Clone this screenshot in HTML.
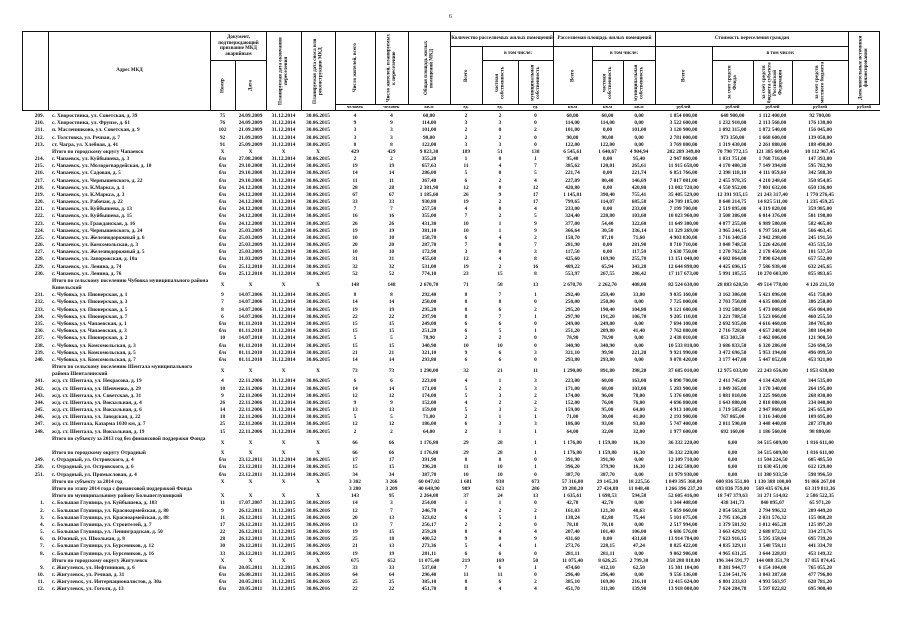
<!DOCTYPE html>
<html><head><meta charset="utf-8"><style>
body{margin:0;width:905px;height:640px;background:#fff;position:relative;overflow:hidden;font-family:"Liberation Serif",serif;color:#111}
.b{position:absolute;border:1px solid #111;box-sizing:border-box;display:flex;align-items:center;justify-content:center;text-align:center;font-size:5px;font-weight:bold;line-height:5.5px}
.v{writing-mode:vertical-rl;transform:rotate(180deg)}
.u{position:absolute;font-size:4.5px;font-weight:bold;top:104px;text-align:center}
#d{position:absolute;left:22px;top:113px;width:858px}
.r{display:grid;grid-template-columns:26px 162px 25px 31px 35px 34px 40px 33px 42px 32px 36px 35px 39px 31px 32px 57px 41px 39px 56px 32px;height:7.18px;font-size:5.3px;line-height:7.18px;white-space:nowrap;font-weight:bold}
.r span{text-align:center;overflow:hidden}
.r span:nth-child(1){text-align:right;padding-right:4px}
.r span:nth-child(2){text-align:left;padding-left:4px}
.t span:nth-child(2){font-weight:bold}
.t2{height:14.36px;line-height:7.18px}
.t2 span{line-height:14.36px}
.t2 span:nth-child(2){line-height:7.18px;white-space:normal}
</style></head><body>
<div style="position:absolute;left:449px;top:14px;font-size:6px">6</div>
<div class="b" style="left:22px;top:31px;width:27px;height:80px"></div>
<div class="b" style="left:48px;top:31px;width:163px;height:80px">Адрес МКД</div>
<div class="b" style="left:210px;top:31px;width:57px;height:30px">Документ, подтверждающий признание МКД аварийным</div>
<div class="b v" style="left:210px;top:60px;width:26px;height:51px">Номер</div>
<div class="b v" style="left:235px;top:60px;width:32px;height:51px">Дата</div>
<div class="b v" style="left:266px;top:31px;width:36px;height:80px">Планируемая дата окончания переселения</div>
<div class="b v" style="left:301px;top:31px;width:35px;height:80px">Планируемая дата сноса или реконструкции МКД</div>
<div class="b v" style="left:335px;top:31px;width:41px;height:74px">Число жителей, всего</div>
<div class="b v" style="left:375px;top:31px;width:34px;height:74px">Число жителей, планируемых к переселению</div>
<div class="b v" style="left:408px;top:31px;width:43px;height:74px">Общая площадь жилых помещений МКД</div>
<div class="b" style="left:450px;top:31px;width:104px;height:16px">Количество расселяемых жилых помещений</div>
<div class="b v" style="left:450px;top:46px;width:33px;height:59px">Всего</div>
<div class="b" style="left:482px;top:46px;width:72px;height:15px">в том числе:</div>
<div class="b v" style="left:482px;top:60px;width:37px;height:45px">частная собственность</div>
<div class="b v" style="left:518px;top:60px;width:36px;height:45px">муниципальная собственность</div>
<div class="b" style="left:553px;top:31px;width:103px;height:16px">Расселяемая площадь жилых помещений</div>
<div class="b v" style="left:553px;top:46px;width:40px;height:59px">Всего</div>
<div class="b" style="left:592px;top:46px;width:64px;height:15px">в том числе:</div>
<div class="b v" style="left:592px;top:60px;width:32px;height:45px">частная собственность</div>
<div class="b v" style="left:623px;top:60px;width:33px;height:45px">муниципальная собственность</div>
<div class="b" style="left:655px;top:31px;width:194px;height:16px">Стоимость переселения граждан</div>
<div class="b v" style="left:655px;top:46px;width:58px;height:59px">Всего</div>
<div class="b" style="left:712px;top:46px;width:137px;height:15px">в том числе:</div>
<div class="b v" style="left:712px;top:60px;width:42px;height:45px">за счет средств Фонда</div>
<div class="b v" style="left:753px;top:60px;width:40px;height:45px">за счет средств бюджета субъекта Российской Федерации</div>
<div class="b v" style="left:792px;top:60px;width:57px;height:45px">за счет средств местного бюджета</div>
<div class="b v" style="left:848px;top:31px;width:32px;height:74px">Дополнительные источники финансирования</div>
<div style="position:absolute;left:335px;top:110px;width:545px;border-top:1px solid #111"></div>
<div class="u" style="left:335px;width:40px">человек</div><div class="u" style="left:375px;width:33px">человек</div><div class="u" style="left:408px;width:42px">кв.м</div><div class="u" style="left:450px;width:32px">ед.</div><div class="u" style="left:482px;width:36px">ед.</div><div class="u" style="left:518px;width:35px">ед.</div><div class="u" style="left:553px;width:39px">кв.м</div><div class="u" style="left:592px;width:31px">кв.м</div><div class="u" style="left:623px;width:32px">кв.м</div><div class="u" style="left:655px;width:57px">рублей</div><div class="u" style="left:712px;width:41px">рублей</div><div class="u" style="left:753px;width:39px">рублей</div><div class="u" style="left:792px;width:56px">рублей</div><div class="u" style="left:848px;width:32px">рублей</div>
<div id="d">
<div class="r"><span>209.</span><span>с. Хворостянка, ул. Советская, д. 39</span><span>75</span><span>24.09.2009</span><span>31.12.2014</span><span>30.06.2015</span><span>4</span><span>4</span><span>60,00</span><span>2</span><span>2</span><span>0</span><span>60,00</span><span>60,00</span><span>0,00</span><span>1 854 000,00</span><span>648 900,00</span><span>1 112 400,00</span><span>92 700,00</span><span></span></div>
<div class="r"><span>210.</span><span>с. Хворостянка, ул. Фрунзе, д. 61</span><span>76</span><span>24.09.2009</span><span>31.12.2014</span><span>30.06.2015</span><span>9</span><span>9</span><span>114,00</span><span>3</span><span>3</span><span>0</span><span>114,00</span><span>114,00</span><span>0,00</span><span>3 522 600,00</span><span>1 232 910,00</span><span>2 113 560,00</span><span>176 130,00</span><span></span></div>
<div class="r"><span>211.</span><span>п. Масленниково, ул. Советская, д. 9</span><span>102</span><span>21.09.2009</span><span>31.12.2014</span><span>30.06.2015</span><span>3</span><span>3</span><span>101,00</span><span>2</span><span>0</span><span>2</span><span>101,00</span><span>0,00</span><span>101,00</span><span>3 120 900,00</span><span>1 092 315,00</span><span>1 872 540,00</span><span>156 045,00</span><span></span></div>
<div class="r"><span>212.</span><span>с. Толстовка, ул. Речная, д. 7</span><span>92</span><span>21.09.2009</span><span>31.12.2014</span><span>30.06.2015</span><span>3</span><span>3</span><span>90,00</span><span>2</span><span>2</span><span>0</span><span>90,00</span><span>90,00</span><span>0,00</span><span>2 781 000,00</span><span>973 350,00</span><span>1 668 600,00</span><span>139 050,00</span><span></span></div>
<div class="r"><span>213.</span><span>ст. Чагра, ул. Хлебная, д. 41</span><span>91</span><span>25.09.2009</span><span>31.12.2014</span><span>30.06.2015</span><span>8</span><span>8</span><span>122,00</span><span>3</span><span>3</span><span>0</span><span>122,00</span><span>122,00</span><span>0,00</span><span>3 769 800,00</span><span>1 319 430,00</span><span>2 261 880,00</span><span>188 490,00</span><span></span></div>
<div class="r t"><span></span><span>Итого по городскому округу Чапаевск</span><span>X</span><span>X</span><span>X</span><span>X</span><span>429</span><span>429</span><span>9 823,30</span><span>189</span><span>51</span><span>138</span><span>6 545,61</span><span>1 640,67</span><span>4 904,94</span><span>202 289 349,00</span><span>70 790 772,15</span><span>121 385 609,40</span><span>10 112 967,45</span><span></span></div>
<div class="r"><span>214.</span><span>г. Чапаевск, ул. Куйбышева, д. 3</span><span>б/н</span><span>27.08.2008</span><span>31.12.2014</span><span>30.06.2015</span><span>2</span><span>2</span><span>355,20</span><span>1</span><span>0</span><span>1</span><span>95,40</span><span>0,00</span><span>95,40</span><span>2 947 860,00</span><span>1 031 751,00</span><span>1 768 716,00</span><span>147 393,00</span><span></span></div>
<div class="r"><span>215.</span><span>г. Чапаевск, ул. Молодогвардейская, д. 10</span><span>б/н</span><span>29.10.2008</span><span>31.12.2014</span><span>30.06.2015</span><span>19</span><span>19</span><span>657,63</span><span>11</span><span>4</span><span>7</span><span>385,62</span><span>120,01</span><span>265,61</span><span>11 915 658,00</span><span>4 170 480,30</span><span>7 149 394,80</span><span>595 782,90</span><span></span></div>
<div class="r"><span>216.</span><span>г. Чапаевск, ул. Садовая, д. 5</span><span>б/н</span><span>29.10.2008</span><span>31.12.2014</span><span>30.06.2015</span><span>14</span><span>14</span><span>286,00</span><span>5</span><span>0</span><span>5</span><span>221,74</span><span>0,00</span><span>221,74</span><span>6 851 766,00</span><span>2 398 118,10</span><span>4 111 059,60</span><span>342 588,30</span><span></span></div>
<div class="r"><span>217.</span><span>г. Чапаевск, ул. Чернышевского, д. 22</span><span>б/н</span><span>29.10.2008</span><span>31.12.2014</span><span>30.06.2015</span><span>11</span><span>11</span><span>367,40</span><span>6</span><span>2</span><span>4</span><span>227,09</span><span>80,40</span><span>146,69</span><span>7 017 081,00</span><span>2 455 978,35</span><span>4 210 248,60</span><span>350 854,05</span><span></span></div>
<div class="r"><span>218.</span><span>г. Чапаевск, ул. К.Маркса, д. 1</span><span>б/н</span><span>24.12.2008</span><span>31.12.2014</span><span>30.06.2015</span><span>28</span><span>28</span><span>2 381,90</span><span>12</span><span>0</span><span>12</span><span>420,80</span><span>0,00</span><span>420,80</span><span>13 002 720,00</span><span>4 550 952,00</span><span>7 801 632,00</span><span>650 136,00</span><span></span></div>
<div class="r"><span>219.</span><span>г. Чапаевск, ул. К.Маркса, д. 3</span><span>б/н</span><span>24.12.2008</span><span>31.12.2014</span><span>30.06.2015</span><span>67</span><span>67</span><span>1 185,60</span><span>26</span><span>9</span><span>17</span><span>1 145,81</span><span>390,40</span><span>755,41</span><span>35 405 529,00</span><span>12 391 935,15</span><span>21 243 317,40</span><span>1 770 276,45</span><span></span></div>
<div class="r"><span>220.</span><span>г. Чапаевск, ул. Рабочая, д. 22</span><span>б/н</span><span>24.12.2008</span><span>31.12.2014</span><span>30.06.2015</span><span>33</span><span>33</span><span>930,80</span><span>19</span><span>2</span><span>17</span><span>799,65</span><span>114,07</span><span>685,58</span><span>24 709 185,00</span><span>8 648 214,75</span><span>14 825 511,00</span><span>1 235 459,25</span><span></span></div>
<div class="r"><span>221.</span><span>г. Чапаевск, ул. Куйбышева, д. 13</span><span>б/н</span><span>24.12.2008</span><span>31.12.2014</span><span>30.06.2015</span><span>7</span><span>7</span><span>257,50</span><span>4</span><span>0</span><span>4</span><span>233,00</span><span>0,00</span><span>233,00</span><span>7 199 700,00</span><span>2 519 895,00</span><span>4 319 820,00</span><span>359 985,00</span><span></span></div>
<div class="r"><span>222.</span><span>г. Чапаевск, ул. Куйбышева, д. 15</span><span>б/н</span><span>24.12.2008</span><span>31.12.2014</span><span>30.06.2015</span><span>16</span><span>16</span><span>355,00</span><span>7</span><span>2</span><span>5</span><span>324,40</span><span>220,80</span><span>103,60</span><span>10 023 960,00</span><span>3 508 386,00</span><span>6 014 376,00</span><span>501 198,00</span><span></span></div>
<div class="r"><span>223.</span><span>г. Чапаевск, ул. Гражданская, д. 16</span><span>б/н</span><span>24.12.2008</span><span>31.12.2014</span><span>30.06.2015</span><span>26</span><span>26</span><span>431,30</span><span>10</span><span>1</span><span>9</span><span>377,00</span><span>54,40</span><span>322,60</span><span>11 649 300,00</span><span>4 077 255,00</span><span>6 989 580,00</span><span>582 465,00</span><span></span></div>
<div class="r"><span>224.</span><span>г. Чапаевск, ул. Чернышевского, д. 24</span><span>б/н</span><span>25.03.2009</span><span>31.12.2014</span><span>30.06.2015</span><span>19</span><span>19</span><span>381,10</span><span>10</span><span>1</span><span>9</span><span>366,64</span><span>30,50</span><span>336,14</span><span>11 329 269,00</span><span>3 965 244,15</span><span>6 797 561,40</span><span>566 463,45</span><span></span></div>
<div class="r"><span>225.</span><span>г. Чапаевск, ул. Железнодорожный д. 6</span><span>б/н</span><span>25.03.2009</span><span>31.12.2014</span><span>30.06.2015</span><span>10</span><span>10</span><span>158,70</span><span>6</span><span>4</span><span>2</span><span>158,70</span><span>87,10</span><span>71,60</span><span>4 903 830,00</span><span>1 716 340,50</span><span>2 942 298,00</span><span>245 191,50</span><span></span></div>
<div class="r"><span>226.</span><span>г. Чапаевск, ул. Комсомольская, д. 3</span><span>б/н</span><span>25.03.2009</span><span>31.12.2014</span><span>30.06.2015</span><span>20</span><span>20</span><span>287,70</span><span>7</span><span>0</span><span>7</span><span>281,90</span><span>0,00</span><span>281,90</span><span>8 710 710,00</span><span>3 048 748,50</span><span>5 226 426,00</span><span>435 535,50</span><span></span></div>
<div class="r"><span>227.</span><span>г. Чапаевск, ул. Железнодорожный д. 5</span><span>б/н</span><span>25.03.2009</span><span>31.12.2014</span><span>30.06.2015</span><span>10</span><span>10</span><span>172,90</span><span>3</span><span>0</span><span>3</span><span>117,50</span><span>0,00</span><span>117,50</span><span>3 630 750,00</span><span>1 270 762,50</span><span>2 178 450,00</span><span>181 537,50</span><span></span></div>
<div class="r"><span>228.</span><span>г. Чапаевск, ул. Запорожская, д. 10а</span><span>б/н</span><span>31.03.2009</span><span>31.12.2014</span><span>30.06.2015</span><span>31</span><span>31</span><span>455,60</span><span>12</span><span>4</span><span>8</span><span>425,60</span><span>169,90</span><span>255,70</span><span>13 151 040,00</span><span>4 602 864,00</span><span>7 890 624,00</span><span>657 552,00</span><span></span></div>
<div class="r"><span>229.</span><span>г. Чапаевск, ул. Ленина, д. 74</span><span>б/н</span><span>25.12.2010</span><span>31.12.2014</span><span>30.06.2015</span><span>32</span><span>32</span><span>531,00</span><span>19</span><span>2</span><span>16</span><span>409,22</span><span>65,94</span><span>343,28</span><span>12 644 898,00</span><span>4 425 696,15</span><span>7 586 938,40</span><span>632 245,65</span><span></span></div>
<div class="r"><span>230.</span><span>г. Чапаевск, ул. Ленина, д. 76</span><span>б/н</span><span>25.12.2010</span><span>31.12.2014</span><span>30.06.2015</span><span>52</span><span>52</span><span>774,10</span><span>23</span><span>15</span><span>8</span><span>553,97</span><span>267,55</span><span>286,42</span><span>17 117 673,00</span><span>5 991 185,55</span><span>10 270 603,80</span><span>855 883,65</span><span></span></div>
<div class="r t t2"><span></span><span>Итого по сельскому поселению Чубовка муниципального района Кинельский</span><span>X</span><span>X</span><span>X</span><span>X</span><span>148</span><span>148</span><span>2 670,70</span><span>71</span><span>58</span><span>13</span><span>2 670,70</span><span>2 262,70</span><span>408,00</span><span>82 524 630,00</span><span>28 883 620,50</span><span>49 514 778,00</span><span>4 126 231,50</span><span></span></div>
<div class="r"><span>231.</span><span>с. Чубовка, ул. Пионерская, д. 1</span><span>9</span><span>14.07.2006</span><span>31.12.2014</span><span>30.06.2015</span><span>8</span><span>8</span><span>292,40</span><span>8</span><span>7</span><span>1</span><span>292,40</span><span>259,40</span><span>33,00</span><span>9 035 160,00</span><span>3 162 306,00</span><span>5 421 096,00</span><span>451 758,00</span><span></span></div>
<div class="r"><span>232.</span><span>с. Чубовка, ул. Пионерская, д. 3</span><span>7</span><span>14.07.2006</span><span>31.12.2014</span><span>30.06.2015</span><span>14</span><span>14</span><span>250,00</span><span>8</span><span>8</span><span>0</span><span>250,00</span><span>250,00</span><span>0,00</span><span>7 725 000,00</span><span>2 703 750,00</span><span>4 635 000,00</span><span>386 250,00</span><span></span></div>
<div class="r"><span>233.</span><span>с. Чубовка, ул. Пионерская, д. 5</span><span>8</span><span>14.07.2006</span><span>31.12.2014</span><span>30.06.2015</span><span>19</span><span>19</span><span>295,20</span><span>8</span><span>6</span><span>2</span><span>295,20</span><span>190,40</span><span>104,80</span><span>9 121 680,00</span><span>3 192 588,00</span><span>5 473 008,00</span><span>456 084,00</span><span></span></div>
<div class="r"><span>234.</span><span>с. Чубовка, ул. Пионерская, д. 7</span><span>6</span><span>14.07.2006</span><span>31.12.2014</span><span>30.06.2015</span><span>22</span><span>22</span><span>297,90</span><span>8</span><span>7</span><span>1</span><span>297,90</span><span>191,20</span><span>106,70</span><span>9 205 110,00</span><span>3 221 788,50</span><span>5 523 066,00</span><span>460 255,50</span><span></span></div>
<div class="r"><span>235.</span><span>с. Чубовка, ул. Чапаевская, д. 1</span><span>б/н</span><span>01.11.2010</span><span>31.12.2014</span><span>30.06.2015</span><span>15</span><span>15</span><span>249,00</span><span>6</span><span>6</span><span>0</span><span>249,00</span><span>249,00</span><span>0,00</span><span>7 694 100,00</span><span>2 692 935,00</span><span>4 616 460,00</span><span>384 705,00</span><span></span></div>
<div class="r"><span>236.</span><span>с. Чубовка, ул. Чапаевская, д. 3</span><span>б/н</span><span>01.11.2010</span><span>31.12.2014</span><span>30.06.2015</span><span>15</span><span>15</span><span>251,20</span><span>6</span><span>5</span><span>1</span><span>251,20</span><span>209,80</span><span>41,40</span><span>7 762 080,00</span><span>2 716 728,00</span><span>4 657 248,00</span><span>388 104,00</span><span></span></div>
<div class="r"><span>237.</span><span>с. Чубовка, ул. Пионерская, д. 2</span><span>10</span><span>14.07.2010</span><span>31.12.2014</span><span>30.06.2015</span><span>5</span><span>5</span><span>78,90</span><span>2</span><span>2</span><span>0</span><span>78,90</span><span>78,90</span><span>0,00</span><span>2 438 010,00</span><span>853 303,50</span><span>1 462 806,00</span><span>121 900,50</span><span></span></div>
<div class="r"><span>238.</span><span>с. Чубовка, ул. Комсомольская, д. 3</span><span>б/н</span><span>01.11.2010</span><span>31.12.2014</span><span>30.06.2015</span><span>15</span><span>15</span><span>340,90</span><span>10</span><span>10</span><span>0</span><span>340,90</span><span>340,90</span><span>0,00</span><span>10 533 810,00</span><span>3 686 833,50</span><span>6 320 286,00</span><span>526 690,50</span><span></span></div>
<div class="r"><span>239.</span><span>с. Чубовка, ул. Комсомольская, д. 5</span><span>б/н</span><span>01.11.2010</span><span>31.12.2014</span><span>30.06.2015</span><span>21</span><span>21</span><span>321,10</span><span>9</span><span>6</span><span>3</span><span>321,10</span><span>99,90</span><span>221,20</span><span>9 921 990,00</span><span>3 472 696,50</span><span>5 953 194,00</span><span>496 099,50</span><span></span></div>
<div class="r"><span>240.</span><span>с. Чубовка, ул. Комсомольская, д. 7</span><span>б/н</span><span>01.11.2010</span><span>31.12.2014</span><span>30.06.2015</span><span>14</span><span>14</span><span>293,80</span><span>6</span><span>6</span><span>0</span><span>293,80</span><span>293,80</span><span>0,00</span><span>9 078 420,00</span><span>3 177 447,00</span><span>5 447 052,00</span><span>453 921,00</span><span></span></div>
<div class="r t t2"><span></span><span>Итого по сельскому поселению Шентала муниципального района Шенталинский</span><span>X</span><span>X</span><span>X</span><span>X</span><span>73</span><span>73</span><span>1 290,00</span><span>32</span><span>21</span><span>11</span><span>1 290,00</span><span>891,80</span><span>398,20</span><span>37 685 010,00</span><span>12 975 033,00</span><span>22 243 656,00</span><span>1 853 638,00</span><span></span></div>
<div class="r"><span>241.</span><span>ж/д. ст. Шентала, ул. Некрасова, д. 19</span><span>4</span><span>22.11.2006</span><span>31.12.2014</span><span>30.06.2015</span><span>6</span><span>6</span><span>223,00</span><span>4</span><span>1</span><span>3</span><span>223,00</span><span>60,00</span><span>163,00</span><span>6 890 700,00</span><span>2 411 745,00</span><span>4 134 420,00</span><span>344 535,00</span><span></span></div>
<div class="r"><span>242.</span><span>ж/д. ст. Шентала, ул. Шевченко, д. 29</span><span>10</span><span>22.11.2006</span><span>31.12.2014</span><span>30.06.2015</span><span>14</span><span>14</span><span>171,00</span><span>5</span><span>2</span><span>3</span><span>171,00</span><span>68,00</span><span>103,00</span><span>5 283 900,00</span><span>1 849 365,00</span><span>3 170 340,00</span><span>264 195,00</span><span></span></div>
<div class="r"><span>243.</span><span>ж/д. ст. Шентала, ул. Советская, д. 31</span><span>9</span><span>22.11.2006</span><span>31.12.2014</span><span>30.06.2015</span><span>12</span><span>12</span><span>174,00</span><span>5</span><span>3</span><span>2</span><span>174,00</span><span>96,00</span><span>78,00</span><span>5 376 600,00</span><span>1 881 810,00</span><span>3 225 960,00</span><span>268 830,00</span><span></span></div>
<div class="r"><span>244.</span><span>ж/д. ст. Шентала, ул. Вокзальная, д. 4</span><span>26</span><span>22.11.2006</span><span>31.12.2014</span><span>30.06.2015</span><span>9</span><span>9</span><span>152,00</span><span>4</span><span>2</span><span>2</span><span>152,00</span><span>76,00</span><span>76,00</span><span>4 696 800,00</span><span>1 643 880,00</span><span>2 818 080,00</span><span>234 840,00</span><span></span></div>
<div class="r"><span>245.</span><span>ж/д. ст. Шентала, ул. Вокзальная, д. 6</span><span>14</span><span>22.11.2006</span><span>31.12.2014</span><span>30.06.2015</span><span>13</span><span>13</span><span>159,00</span><span>5</span><span>3</span><span>2</span><span>159,00</span><span>95,00</span><span>64,00</span><span>4 913 100,00</span><span>1 719 585,00</span><span>2 947 860,00</span><span>245 655,00</span><span></span></div>
<div class="r"><span>246.</span><span>ж/д. ст. Шентала, ул. Заводская, д. 22</span><span>18</span><span>22.11.2006</span><span>31.12.2014</span><span>30.06.2015</span><span>5</span><span>5</span><span>71,00</span><span>2</span><span>1</span><span>1</span><span>71,00</span><span>30,00</span><span>41,00</span><span>2 193 900,00</span><span>767 865,00</span><span>1 316 340,00</span><span>109 695,00</span><span></span></div>
<div class="r"><span>247.</span><span>ж/д. ст. Шентала, Казарма 1030 км, д. 7</span><span>25</span><span>22.11.2006</span><span>31.12.2014</span><span>30.06.2015</span><span>12</span><span>12</span><span>186,00</span><span>6</span><span>3</span><span>3</span><span>186,00</span><span>93,00</span><span>93,00</span><span>5 747 400,00</span><span>2 011 590,00</span><span>3 448 440,00</span><span>287 370,00</span><span></span></div>
<div class="r"><span>248.</span><span>ж/д. ст. Шентала, ул. Вокзальная, д. 19</span><span>15</span><span>22.11.2006</span><span>31.12.2014</span><span>30.06.2015</span><span>2</span><span>2</span><span>64,00</span><span>2</span><span>1</span><span>1</span><span>64,00</span><span>32,00</span><span>32,00</span><span>1 977 600,00</span><span>692 160,00</span><span>1 186 560,00</span><span>98 880,00</span><span></span></div>
<div class="r t t2"><span></span><span>Итого по субъекту за 2013 год без финансовой поддержки Фонда</span><span>X</span><span>X</span><span>X</span><span>X</span><span>66</span><span>66</span><span>1 176,80</span><span>29</span><span>28</span><span>1</span><span>1 176,80</span><span>1 159,80</span><span>16,30</span><span>36 332 220,00</span><span>0,00</span><span>34 515 609,00</span><span>1 816 611,00</span><span></span></div>
<div class="r t"><span></span><span>Итого по городскому округу Отрадный</span><span>X</span><span>X</span><span>X</span><span>X</span><span>66</span><span>66</span><span>1 176,80</span><span>29</span><span>28</span><span>1</span><span>1 176,80</span><span>1 159,80</span><span>16,30</span><span>36 332 220,00</span><span>0,00</span><span>34 515 609,00</span><span>1 816 611,00</span><span></span></div>
<div class="r"><span>249.</span><span>г. Отрадный, ул. Островского, д. 4</span><span>б/н</span><span>23.12.2011</span><span>31.12.2014</span><span>30.06.2015</span><span>17</span><span>17</span><span>391,90</span><span>8</span><span>8</span><span>0</span><span>391,90</span><span>391,90</span><span>0,00</span><span>12 109 710,00</span><span>0,00</span><span>11 504 224,50</span><span>605 485,50</span><span></span></div>
<div class="r"><span>250.</span><span>г. Отрадный, ул. Островского, д. 6</span><span>б/н</span><span>23.12.2011</span><span>31.12.2014</span><span>30.06.2015</span><span>15</span><span>15</span><span>396,20</span><span>11</span><span>10</span><span>1</span><span>396,20</span><span>379,90</span><span>16,30</span><span>12 242 580,00</span><span>0,00</span><span>11 630 451,00</span><span>612 129,00</span><span></span></div>
<div class="r"><span>251.</span><span>г. Отрадный, ул. Промысловая, д. 4</span><span>б/н</span><span>23.12.2011</span><span>31.12.2014</span><span>30.06.2015</span><span>34</span><span>34</span><span>387,70</span><span>10</span><span>10</span><span>0</span><span>387,70</span><span>387,70</span><span>0,00</span><span>11 979 930,00</span><span>0,00</span><span>11 380 933,50</span><span>598 996,50</span><span></span></div>
<div class="r t"><span></span><span>Итого по субъекту за 2014 год</span><span>X</span><span>X</span><span>X</span><span>X</span><span>3 302</span><span>3 266</span><span>60 047,02</span><span>1 681</span><span>938</span><span>673</span><span>57 316,80</span><span>29 145,30</span><span>18 225,56</span><span>1 849 395 368,00</span><span>600 836 551,00</span><span>1 130 388 100,00</span><span>91 866 267,00</span><span></span></div>
<div class="r t"><span></span><span>Итого по этапу 2014 года с финансовой поддержкой Фонда</span><span></span><span></span><span></span><span></span><span>3 280</span><span>3 209</span><span>40 648,90</span><span>989</span><span>623</span><span>286</span><span>39 280,20</span><span>27 434,88</span><span>11 848,40</span><span>1 266 396 237,20</span><span>693 836 759,00</span><span>569 435 676,84</span><span>63 319 811,36</span><span></span></div>
<div class="r t"><span></span><span>Итого по муниципальному району Большеглушицкий</span><span>X</span><span>X</span><span>X</span><span>X</span><span>143</span><span>95</span><span>2 264,08</span><span>37</span><span>24</span><span>13</span><span>1 635,61</span><span>1 698,53</span><span>594,58</span><span>52 605 416,00</span><span>18 747 379,63</span><span>31 271 514,02</span><span>2 586 522,35</span><span></span></div>
<div class="r"><span>1.</span><span>с. Большая Глушица, ул. Куйбышева, д. 103</span><span>11</span><span>17.07.2007</span><span>31.12.2015</span><span>30.06.2016</span><span>14</span><span>3</span><span>254,00</span><span>1</span><span>1</span><span>0</span><span>42,70</span><span>42,70</span><span>0,00</span><span>1 344 408,00</span><span>438 341,73</span><span>840 095,07</span><span>65 971,20</span><span></span></div>
<div class="r"><span>2.</span><span>с. Большая Глушица, ул. Красноармейская, д. 80</span><span>9</span><span>26.12.2011</span><span>31.12.2015</span><span>30.06.2016</span><span>12</span><span>7</span><span>246,70</span><span>4</span><span>2</span><span>2</span><span>161,03</span><span>121,30</span><span>40,63</span><span>5 059 060,00</span><span>2 054 563,28</span><span>2 794 996,32</span><span>209 449,20</span><span></span></div>
<div class="r"><span>3.</span><span>с. Большая Глушица, ул. Красноармейская, д. 88</span><span>11</span><span>26.12.2011</span><span>31.12.2015</span><span>30.06.2016</span><span>20</span><span>13</span><span>323,02</span><span>6</span><span>5</span><span>1</span><span>138,24</span><span>82,80</span><span>75,44</span><span>5 101 675,00</span><span>2 795 136,20</span><span>2 031 576,32</span><span>155 068,28</span><span></span></div>
<div class="r"><span>4.</span><span>с. Большая Глушица, ул. Строителей, д. 7</span><span>17</span><span>26.12.2011</span><span>31.12.2015</span><span>30.06.2016</span><span>13</span><span>7</span><span>256,17</span><span>2</span><span>2</span><span>0</span><span>78,10</span><span>78,10</span><span>0,00</span><span>2 517 994,00</span><span>1 379 581,92</span><span>1 012 465,28</span><span>125 897,20</span><span></span></div>
<div class="r"><span>5.</span><span>с. Большая Глушица, ул. Ленинградская, д. 50</span><span>22</span><span>26.12.2011</span><span>31.12.2015</span><span>30.06.2016</span><span>19</span><span>15</span><span>259,20</span><span>8</span><span>4</span><span>4</span><span>207,40</span><span>101,40</span><span>106,00</span><span>6 686 576,00</span><span>3 663 429,92</span><span>2 688 872,32</span><span>334 273,76</span><span></span></div>
<div class="r"><span>6.</span><span>п. Южный, ул. Школьная, д. 8</span><span>28</span><span>26.12.2011</span><span>31.12.2015</span><span>30.06.2016</span><span>25</span><span>18</span><span>400,52</span><span>9</span><span>0</span><span>9</span><span>431,60</span><span>0,00</span><span>431,60</span><span>13 914 784,00</span><span>7 623 916,15</span><span>5 595 158,04</span><span>695 739,20</span><span></span></div>
<div class="r"><span>7.</span><span>с. Большая Глушица, ул. Бурсевиков, д. 12</span><span>30</span><span>26.12.2011</span><span>31.12.2015</span><span>30.06.2016</span><span>21</span><span>13</span><span>273,36</span><span>5</span><span>4</span><span>1</span><span>273,76</span><span>228,15</span><span>47,24</span><span>8 825 422,00</span><span>4 835 329,11</span><span>3 548 758,11</span><span>441 334,78</span><span></span></div>
<div class="r"><span>8.</span><span>с. Большая Глушица, ул. Бурсевиков, д. 16</span><span>33</span><span>26.12.2011</span><span>31.12.2015</span><span>30.06.2016</span><span>19</span><span>19</span><span>281,11</span><span>6</span><span>6</span><span>0</span><span>281,11</span><span>281,11</span><span>0,00</span><span>9 062 986,00</span><span>4 965 631,25</span><span>3 644 228,83</span><span>453 149,32</span><span></span></div>
<div class="r t"><span></span><span>Итого по городскому округу Жигулевск</span><span>X</span><span>X</span><span>X</span><span>X</span><span>675</span><span>652</span><span>11 075,40</span><span>219</span><span>169</span><span>50</span><span>11 075,40</span><span>8 626,25</span><span>2 799,30</span><span>358 288 818,00</span><span>196 344 591,77</span><span>144 088 351,78</span><span>17 855 874,45</span><span></span></div>
<div class="r"><span>9.</span><span>г. Жигулевск, ул. Нефтяников, д. 6</span><span>б/н</span><span>20.05.2011</span><span>31.12.2015</span><span>30.06.2016</span><span>33</span><span>33</span><span>537,60</span><span>7</span><span>6</span><span>1</span><span>474,60</span><span>412,10</span><span>62,50</span><span>15 301 104,00</span><span>8 381 944,77</span><span>6 154 104,00</span><span>765 055,20</span><span></span></div>
<div class="r"><span>10.</span><span>г. Жигулевск, ул. Речная, д. 31</span><span>б/н</span><span>26.08.2011</span><span>31.12.2015</span><span>30.06.2016</span><span>64</span><span>64</span><span>296,40</span><span>11</span><span>11</span><span>0</span><span>296,40</span><span>296,40</span><span>0,00</span><span>9 556 136,00</span><span>5 234 541,76</span><span>3 843 387,60</span><span>477 796,80</span><span></span></div>
<div class="r"><span>11.</span><span>г. Жигулевск, ул. Интернационалистов, д. 30а</span><span>б/н</span><span>20.05.2011</span><span>31.12.2015</span><span>30.06.2016</span><span>25</span><span>25</span><span>385,10</span><span>8</span><span>6</span><span>2</span><span>385,10</span><span>169,00</span><span>216,10</span><span>12 415 624,00</span><span>6 801 233,83</span><span>4 993 563,97</span><span>620 781,20</span><span></span></div>
<div class="r"><span>12.</span><span>г. Жигулевск, ул. Гоголя, д. 13</span><span>б/н</span><span>20.05.2011</span><span>31.12.2015</span><span>30.06.2016</span><span>22</span><span>22</span><span>451,70</span><span>8</span><span>4</span><span>4</span><span>451,70</span><span>311,80</span><span>139,90</span><span>13 918 008,00</span><span>7 624 284,78</span><span>5 597 822,82</span><span>695 900,40</span><span></span></div>
</div>
</body></html>
